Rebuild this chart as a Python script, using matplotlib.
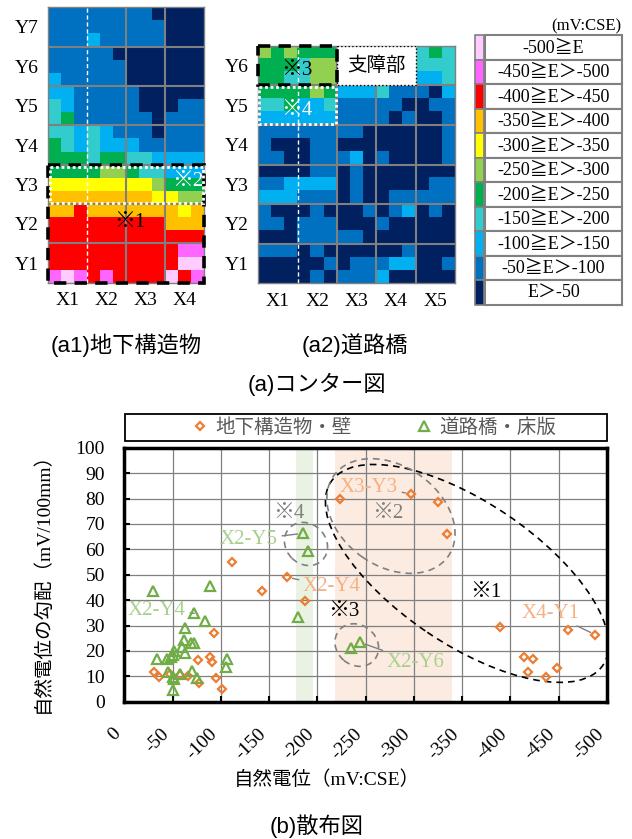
import matplotlib
matplotlib.use('Agg')
import matplotlib.pyplot as plt
import matplotlib.transforms as mtransforms
import numpy as np
from matplotlib.colors import ListedColormap
from matplotlib.patches import Rectangle, Ellipse
from matplotlib.lines import Line2D

SERIF = ['Liberation Serif', 'Noto Sans CJK JP']
SANS = ['Liberation Sans', 'Noto Sans CJK JP']
CJK = ['Noto Sans CJK JP', 'DejaVu Sans']

# potential classes: index 0 = E>-50 ... index 10 = -500>=E
class_colors = ['#002060', '#0070C0', '#00B0F0', '#33CCCC', '#00B050', '#92D050',
                '#FFFF00', '#FFC000', '#FF0000', '#FF66FF', '#FFCCFF']
class_labels = ['E＞-50', '-50≧E＞-100', '-100≧E＞-150', '-150≧E＞-200',
                '-200≧E＞-250', '-250≧E＞-300', '-300≧E＞-350', '-350≧E＞-400',
                '-400≧E＞-450', '-450≧E＞-500', '-500≧E']

# (a1) underground structure, 4 x 7 cells, each split 3 x 3 (class index, hex)
grid_a1 = [
    "111111110000",
    "111111111000",
    "111211111000",
    "111110000000",
    "111111000000",
    "211111000000",
    "221111100000",
    "321111100011",
    "341111110111",
    "332321110111",
    "432322211111",
    "444344332222",
    "444455433222",
    "666666665444",
    "777777776655",
    "778777777767",
    "888888888777",
    "888888888888",
    "888888888899",
    "8888888888aa",
    "9a9898888a89",
]
a1_xlabels = ['X1', 'X2', 'X3', 'X4']
a1_ylabels = ['Y7', 'Y6', 'Y5', 'Y4', 'Y3', 'Y2', 'Y1']

# (a2) road bridge, 5 x 6 cells, '-' = no data (bearing area)
grid_a2 = [
    "545444------343",
    "444355------333",
    "443355------223",
    "444454222311102",
    "334223111110011",
    "222222111101001",
    "111111110000001",
    "100011000000001",
    "110011120100001",
    "000011010000000",
    "112222010000011",
    "222111010011111",
    "100010001012010",
    "110111000100000",
    "000111110000000",
    "111010000001000",
    "000001011122001",
    "000010111200000",
]
a2_xlabels = ['X1', 'X2', 'X3', 'X4', 'X5']
a2_ylabels = ['Y6', 'Y5', 'Y4', 'Y3', 'Y2', 'Y1']

# (b) scatter: potential (mV:CSE) vs gradient (mV/100mm)
wall_E = [-31, -36, -47, -58, -66, -76, -77, -89, -91, -93, -95, -101, -112, -143,
          -169, -187, -223, -297, -325, -334, -389, -414, -418, -423, -437, -448,
          -460, -488]
wall_G = [11.6, 9.8, 10.9, 10.4, 10.0, 16.4, 7.2, 17.7, 15.6, 26.9, 9.4, 4.9, 54.9,
          43.7, 49.0, 39.8, 79.7, 81.9, 78.7, 66.0, 29.3, 17.5, 11.8, 16.7, 9.8,
          13.1, 28.2, 26.3]
slab_E = [-29.7, -33.5, -43.9, -44.9, -48, -50, -50, -50.7, -51.1, -51.7, -57.6,
          -59.4, -61.5, -62.5, -62.8, -68.7, -69.7, -72.1, -72.5, -74.9, -83.8,
          -88.7, -105, -106, -179.8, -185.3, -190.8, -234.6, -244]
slab_G = [43.5, 16.8, 16.8, 11.8, 17.7, 18.4, 4.6, 9.8, 20.1, 8.9, 10.9, 21.7, 24.3,
          29.1, 19.3, 23.0, 12.2, 23.0, 34.8, 9.2, 31.9, 45.5, 13.8, 16.7, 33.5,
          66.3, 59.3, 21.0, 23.4]
x_ticks = [0, -50, -100, -150, -200, -250, -300, -350, -400, -450, -500]
y_ticks = [0, 10, 20, 30, 40, 50, 60, 70, 80, 90, 100]

ORANGE = '#ED7D31'
GREEN = '#70AD47'
ORANGE_LT = '#F4B183'
GREEN_LT = '#A9D18E'
GRAY = '#808080'

W, H = 632, 839
fig = plt.figure(figsize=(W / 100, H / 100), dpi=100)


def px_axes(l, t, r, b):
    return fig.add_axes([l / W, 1 - b / H, (r - l) / W, (b - t) / H])


# overlay for titles and the colour legend, in pixel coords
ov = fig.add_axes([0, 0, 1, 1])
ov.set_xlim(0, W)
ov.set_ylim(H, 0)
ov.axis('off')

cmap = ListedColormap(class_colors)
cmap.set_bad('white')


def draw_grid(ax, rows, xlabels, ylabels):
    arr = np.array([[int(c, 16) if c != '-' else -1 for c in r] for r in rows])
    data = np.ma.masked_less(arr, 0)
    nr, nc = arr.shape
    ax.imshow(data, cmap=cmap, vmin=-0.5, vmax=10.5, aspect='auto',
              interpolation='nearest', extent=(0, nc, nr, 0))
    for i in range(1, len(xlabels)):
        if i == 1:
            ax.axvline(3 * i, color='white', lw=1, ls=(0, (3, 2)))
        else:
            ax.axvline(3 * i, color=GRAY, lw=1.5)
    for j in range(1, len(ylabels)):
        ax.axhline(3 * j, color=GRAY, lw=1.5)
    ax.set_xticks(np.arange(len(xlabels)) * 3 + 1.5)
    ax.set_xticklabels(xlabels, family=SERIF, fontsize=14)
    ax.set_yticks(np.arange(len(ylabels)) * 3 + 1.5)
    ax.set_yticklabels(ylabels, family=SERIF, fontsize=14)
    ax.tick_params(length=0, pad=7)
    for s in ax.spines.values():
        s.set_color(GRAY)
        s.set_linewidth(1)
    ax.set_xlim(0, nc)
    ax.set_ylim(nr, 0)


ax1 = px_axes(48.3, 7.3, 204.3, 282.7)
draw_grid(ax1, grid_a1, a1_xlabels, a1_ylabels)
ax1.add_patch(Rectangle((0, 12), 12, 9, fill=False, ec='black', lw=2.6,
                        ls=(0, (3.4, 2.3)), clip_on=False, zorder=5))
ax1.add_patch(Rectangle((0.1, 12.15), 11.8, 2.75, fill=False, ec='white', lw=2,
                        ls=(0, (1, 1)), clip_on=False, zorder=6))
ax1.text(6.3, 16.4, '※1', family=SERIF, fontsize=15, ha='center', va='center')
ax1.text(10.7, 13.3, '※2', family=SERIF, fontsize=15, ha='center', va='center',
         color='white')

ax2 = px_axes(258.3, 45.7, 455, 283.3)
draw_grid(ax2, grid_a2, a2_xlabels, a2_ylabels)
ax2.add_patch(Rectangle((6, 0), 6, 3, fc='white', ec='black', lw=1, ls=':', zorder=4))
ax2.text(9, 1.5, '支障部', family=CJK, fontsize=14, ha='center', va='center', zorder=5)
ax2.add_patch(Rectangle((0, 0), 6, 3, fill=False, ec='black', lw=2.6,
                        ls=(0, (3.4, 2.3)), clip_on=False, zorder=5))
ax2.add_patch(Rectangle((0.05, 3.1), 5.9, 2.85, fill=False, ec='white', lw=2,
                        ls=(0, (1, 1)), clip_on=False, zorder=6))
ax2.text(2.95, 1.85, '※3', family=SERIF, fontsize=15, ha='center', va='center', zorder=6)
ax2.text(2.95, 4.9, '※4', family=SERIF, fontsize=15, ha='center', va='center',
         color='white', zorder=6)

# colour legend table
ov.text(621, 26, '(mV:CSE)', family=SERIF, fontsize=12, ha='right', va='center')
row_h = 24.5
for i, k in enumerate(range(len(class_colors) - 1, -1, -1)):
    top = 35 + i * row_h
    ov.add_patch(Rectangle((475, top), 9, row_h, fc=class_colors[k], ec=GRAY, lw=1.2))
    ov.add_patch(Rectangle((485, top), 137, row_h, fc='white', ec=GRAY, lw=1.5))
    ov.text(553.5, top + row_h / 2 + 1, class_labels[k], family=SERIF, fontsize=13,
            ha='center', va='center')

ov.text(126, 345, '(a1)地下構造物', family=SANS, fontsize=16, ha='center', va='center')
ov.text(355, 345, '(a2)道路橋', family=SANS, fontsize=16, ha='center', va='center')
ov.text(317, 384, '(a)コンター図', family=SANS, fontsize=16, ha='center', va='center')
ov.text(317, 826, '(b)散布図', family=SANS, fontsize=16, ha='center', va='center')

# scatter
ax = px_axes(124.3, 447.7, 607, 701.7)
ax.axvspan(-178, -195, color='#EAF3E3', lw=0, zorder=0)
ax.axvspan(-218, -339, color='#FBEBE1', lw=0, zorder=0)
ax.set_xlim(0, -500)
ax.set_ylim(0, 100)
ax.set_xticks(x_ticks)
ax.set_xticklabels([str(v) for v in x_ticks], rotation=45, ha='right', va='top',
                   family=SERIF, fontsize=14)
ax.set_yticks(y_ticks)
ax.set_yticklabels([str(v) for v in y_ticks], family=SERIF, fontsize=14)
ax.tick_params(axis='x', direction='in', length=4, width=1.5, pad=17)
ax.tick_params(axis='y', direction='in', length=4, width=1.5, pad=14)
ax.grid(True, color=GRAY, lw=0.9, zorder=1)
ax.set_axisbelow(True)
for s in ax.spines.values():
    s.set_linewidth(2.5)

ax.plot(wall_E, wall_G, ls='none', marker='D', ms=4.5, mfc='none', mec=ORANGE,
        mew=1.6, zorder=4)
ax.plot(slab_E, slab_G, ls='none', marker='^', ms=6.5, mfc='none', mec=GREEN,
        mew=1.6, zorder=4)


def px_ellipse(cx, cy, w, h, angle, **kw):
    tr = fig.dpi_scale_trans + mtransforms.ScaledTranslation(cx, cy, ax.transData)
    ax.add_patch(Ellipse((0, 0), w / 100, h / 100, angle=angle, transform=tr,
                         fill=False, **kw))


px_ellipse(-355, 50.5, 328, 142, -34, ec='black', lw=1.2, ls=(0, (4, 3)), zorder=3)
px_ellipse(-276.2, 73.1, 140, 100, -35, ec=GRAY, lw=1.2, ls=(0, (4, 3)), zorder=3)
px_ellipse(-188.2, 62.1, 46, 40, -45, ec=GRAY, lw=1.2, ls=(0, (4, 3)), zorder=3)
px_ellipse(-240.8, 22.3, 46, 40, -40, ec=GRAY, lw=1.2, ls=(0, (4, 3)), zorder=3)

lead = dict(arrowstyle='-', color=GRAY, lw=1, shrinkA=1, shrinkB=4)
ax.annotate('X2-Y4', xy=(-72.5, 34.8), xytext=(-3.8, 36.1), color=GREEN_LT,
            family=SERIF, fontsize=15, ha='left', va='center', arrowprops=lead)
ax.annotate('X2-Y5', xy=(-185.3, 66.3), xytext=(-99, 63.7), color=GREEN_LT,
            family=SERIF, fontsize=15, ha='left', va='center', arrowprops=lead)
ax.annotate('X3-Y3', xy=(-296.7, 81.9), xytext=(-223.3, 84.5), color=ORANGE_LT,
            family=SERIF, fontsize=15, ha='left', va='center', arrowprops=lead)
ax.annotate('X2-Y4', xy=(-168.7, 49), xytext=(-185, 45.2), color=ORANGE_LT,
            family=SERIF, fontsize=15, ha='left', va='center', arrowprops=lead)
ax.annotate('X2-Y6', xy=(-244, 23.4), xytext=(-271.8, 15.6), color=GREEN_LT,
            family=SERIF, fontsize=15, ha='left', va='center', arrowprops=lead)
ax.annotate('X4-Y1', xy=(-488.2, 26.3), xytext=(-411.5, 34.9), color=ORANGE_LT,
            family=SERIF, fontsize=15, ha='left', va='center', arrowprops=lead)
ax.text(-154, 74.3, '※4', color=GRAY, family=SERIF, fontsize=15, ha='left', va='center')
ax.text(-256.5, 74.3, '※2', color=GRAY, family=SERIF, fontsize=15, ha='left', va='center')
ax.text(-210.8, 35.7, '※3', color='black', family=SERIF, fontsize=15, ha='left', va='center')
ax.text(-357.8, 43.2, '※1', color='black', family=SERIF, fontsize=15, ha='left', va='center')

ax.set_xlabel('自然電位（mV:CSE）', family=SERIF, fontsize=14)
ax.xaxis.set_label_coords(0.42, -0.27)
ax.set_ylabel('自然電位の勾配（mV/100mm）', family=SERIF, fontsize=14)
ax.yaxis.set_label_coords(-0.15, 0.487)

# legend box on top of the scatter
ov.add_patch(Rectangle((125, 414), 482, 27, fill=False, ec='black', lw=1.3))
handles = [Line2D([], [], ls='none', marker='D', ms=4.5, mfc='none', mec=ORANGE, mew=1.6),
           Line2D([], [], ls='none', marker='^', ms=6.5, mfc='none', mec=GREEN, mew=1.6)]
fig.legend(handles, ['地下構造物・壁', '道路橋・床版'], loc='center',
           bbox_to_anchor=(373 / W, 1 - 427.5 / H), ncol=2, frameon=False,
           prop={'family': CJK, 'size': 14}, labelcolor='#595959',
           handletextpad=0.3, handlelength=1.0, columnspacing=3.2)

fig.savefig('out.png', dpi=100)
